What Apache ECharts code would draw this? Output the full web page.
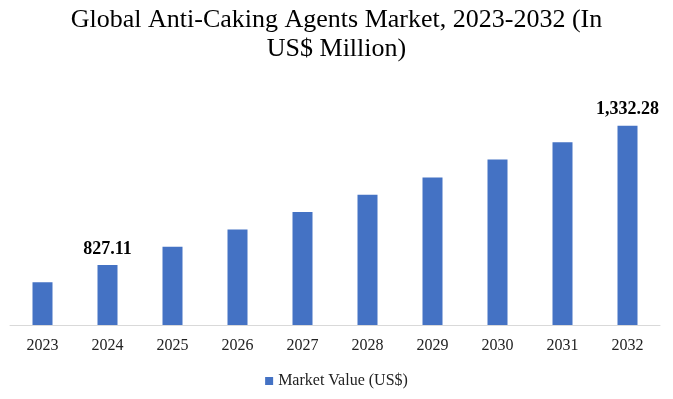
<!DOCTYPE html>
<html>
<head>
<meta charset="utf-8">
<script src="https://cdn.jsdelivr.net/npm/echarts@6/dist/echarts.min.js"></script>
<style>
  html, body { margin: 0; padding: 0; background: #fff; }
  #chart { width: 673px; height: 399px; }
</style>
</head>
<body>
<div id="chart"></div>
<script>
var years = ['2023', '2024', '2025', '2026', '2027', '2028', '2029', '2030', '2031', '2032'];
var marketValue = [764.1, 827.11, 893.3, 955.9, 1018.9, 1081.5, 1144.1, 1209.2, 1272.2, 1332.28];
// only these years carry a value label in the source
var labelledYears = ['2024', '2032'];

var serif = 'Georgia, "Liberation Serif", "DejaVu Serif", serif';

var myChart = echarts.init(document.getElementById('chart'));

myChart.setOption({
    animation: false,
    textStyle: {
        fontFamily: serif
    },
    title: {
        text: 'Global Anti-Caking Agents Market, 2023-2032 (In\nUS$ Million)',
        left: 'center',
        top: 1,
        textStyle: {
            fontFamily: serif,
            fontWeight: 'normal',
            fontSize: 26,
            lineHeight: 29,
            color: '#000'
        }
    },
    legend: {
        bottom: 5,
        left: 'center',
        icon: 'rect',
        itemWidth: 8,
        itemHeight: 8,
        itemGap: 4,
        data: ['Market Value (US$)'],
        textStyle: {
            fontFamily: serif,
            fontSize: 16,
            color: '#222'
        }
    },
    grid: {
        left: 10,
        right: 13,
        top: 107,
        bottom: 74
    },
    xAxis: {
        type: 'category',
        data: years,
        axisTick: { show: false },
        axisLine: { lineStyle: { color: '#d9d9d9', width: 1 } },
        axisLabel: {
            margin: 13,
            fontFamily: serif,
            fontSize: 16,
            color: '#222'
        }
    },
    yAxis: {
        type: 'value',
        min: 609,
        max: 1400,
        show: false,
        splitLine: { show: false }
    },
    series: [
        {
            name: 'Market Value (US$)',
            type: 'bar',
            barWidth: 20,
            itemStyle: { color: '#4472C4' },
            data: marketValue.map(function (v, i) {
                return {
                    value: v,
                    label: { show: labelledYears.indexOf(years[i]) >= 0 }
                };
            }),
            label: {
                position: 'top',
                distance: 7,
                fontFamily: serif,
                fontWeight: 'bold',
                fontSize: 18,
                color: '#000',
                formatter: function (p) {
                    return p.value.toLocaleString('en-US', { minimumFractionDigits: 2, maximumFractionDigits: 2 });
                }
            }
        }
    ]
});
</script>
</body>
</html>
